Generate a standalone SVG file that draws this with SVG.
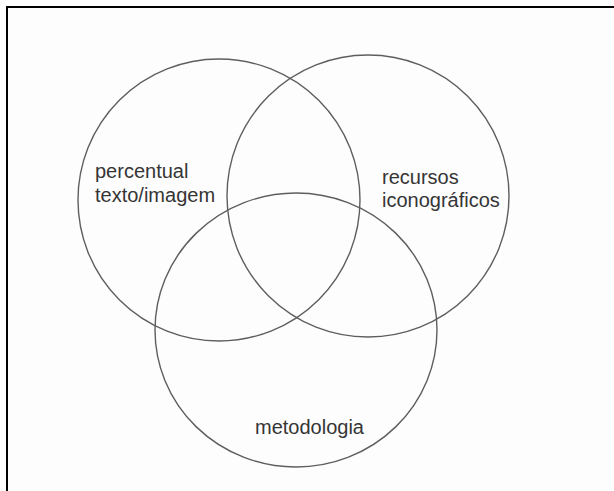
<svg xmlns="http://www.w3.org/2000/svg" width="614" height="491" viewBox="0 0 614 491">
<style>
.c{fill:none;stroke:#5e5e5e;stroke-width:1.4}
.t{font-family:"Liberation Sans",Arial,sans-serif;font-size:20px;fill:#353535}
</style>
<rect x="0" y="0" width="614" height="491" fill="#fdfdfd"/>
<path d="M7,491 V7 H614" fill="none" stroke="#000" stroke-width="2"/>
<g id="node-percentual">
<circle class="c" cx="219" cy="200" r="141"/>
<text class="t" x="95" y="178">percentual</text>
<text class="t" x="95" y="202">texto/imagem</text>
</g>
<g id="node-recursos">
<circle class="c" cx="368" cy="196" r="141"/>
<text class="t" x="382" y="184">recursos</text>
<text class="t" x="382" y="207">iconográficos</text>
</g>
<g id="node-metodologia">
<ellipse class="c" cx="296" cy="330" rx="141" ry="137"/>
<text class="t" x="255" y="434">metodologia</text>
</g>
<g id="connectors"/>
</svg>
